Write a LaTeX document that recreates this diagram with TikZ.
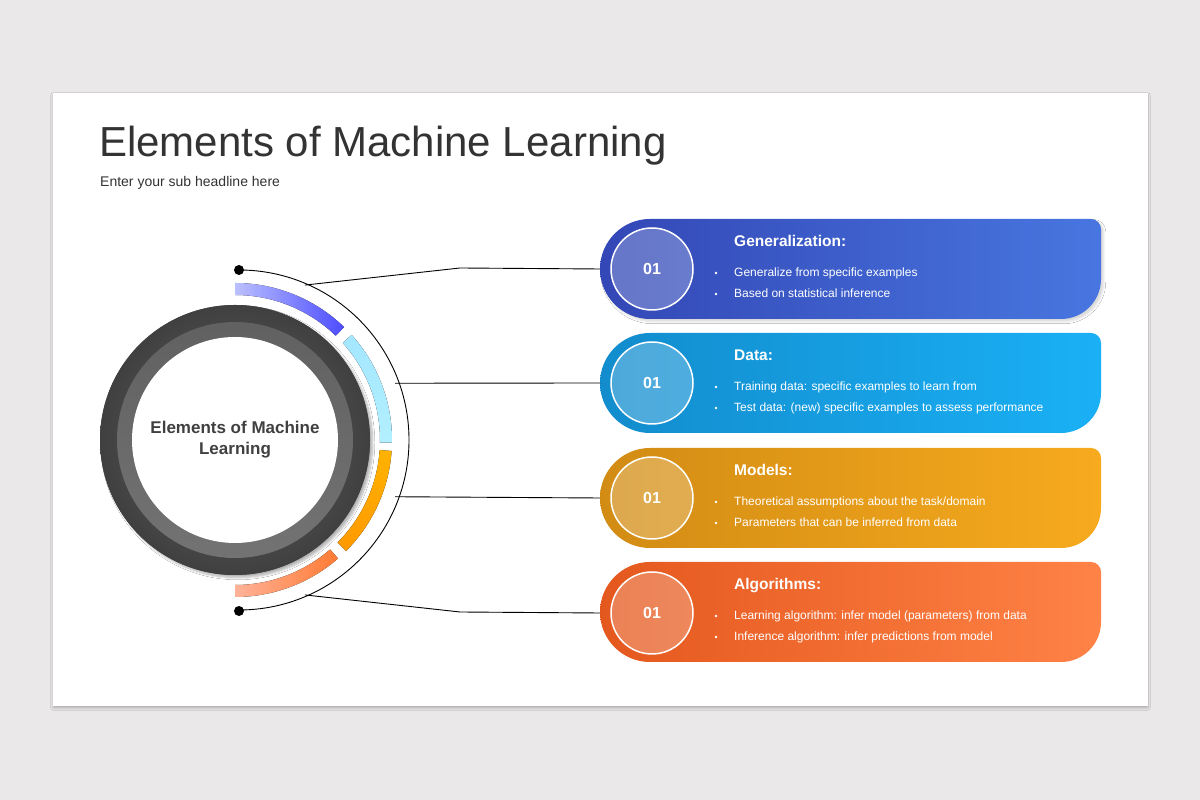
\documentclass[tikz,border=0pt]{standalone}
\usepackage{fontspec}
\setmainfont{Liberation Sans}
\usetikzlibrary{shadows.blur}
\definecolor{bgc}{HTML}{EAE8E9}
\definecolor{txt}{HTML}{333333}
\tikzset{
 card/.style={},
 num/.style={circle,draw=white,line width=1.5pt,minimum size=82pt,text=white,font=\bfseries\fontsize{16}{16}\selectfont,fill=white,fill opacity=0.25,text opacity=1},
 head/.style={anchor=base west,text=white,font=\bfseries\fontsize{15.5}{16}\selectfont,inner sep=0},
 item/.style={anchor=base west,text=white,font=\fontsize{12}{13}\selectfont,inner sep=0},
 conn/.style={black,line width=0.9pt},
}
\newcommand{\cardpath}[1]{(650,#1) arc[start angle=90,end angle=270,radius=50] -- (1061,#1-100) arc[start angle=-90,end angle=0,radius=40] -- (1101,#1-10) arc[start angle=0,end angle=90,radius=10] -- cycle}
\begin{document}
\begin{tikzpicture}[x=1pt,y=1pt]
\useasboundingbox (0,0) rectangle (1200,800);
\fill[bgc] (0,0) rectangle (1200,800);
\fill[white,blur shadow={shadow blur steps=8,shadow xshift=0pt,shadow yshift=-2pt,shadow opacity=25}] (53,94) rectangle (1148,707);
\node[anchor=base west,text=txt,font=\fontsize{42}{44}\selectfont,inner sep=0] (title) at (99,643) {Elements of Machine Learning};
\node[anchor=base west,text=txt,font=\fontsize{14}{16}\selectfont,inner sep=0] (sub) at (100,613) {Enter your sub headline here};
% central circle
\coordinate (C) at (235,360);
\fill[black!70,blur shadow={shadow blur steps=8,shadow opacity=30}] (C) circle (135);
\shade[inner color=black!60,outer color=black!75] (C) circle (135);
\shade[top color=black!62,bottom color=black!55] (C) circle (118);
\fill[white] (C) circle (103);
\node[text=black!75,font=\bfseries\fontsize{17}{21}\selectfont,align=center] (center) at (C) {Elements of Machine\\Learning};
% colored arcs
\def\ring#1#2#3{\fill[#3] ($(C)+(#1:157)$) arc[start angle=#1,end angle=#2,radius=157] -- ($(C)+(#2:145)$) arc[start angle=#2,end angle=#1,radius=145] -- cycle;}
\fill[left color=blue!25!cyan!5!white!70!blue!80,right color=blue!70!white] (235,517) arc[start angle=90,end angle=46,radius=157] -- ++(226:12) arc[start angle=46,end angle=90,radius=145] -- cycle;
\fill[top color=cyan!40!blue!20!white!80!cyan,bottom color=cyan!80!blue!30] ($(235,360)+(42:157)$) arc[start angle=42,end angle=-1,radius=157] -- ($(235,360)+(-1:145)$) arc[start angle=-1,end angle=42,radius=145] -- cycle;
\fill[top color=orange!60!yellow,bottom color=orange!80!yellow] ($(235,360)+(-4:157)$) arc[start angle=-4,end angle=-45,radius=157] -- ($(235,360)+(-45:145)$) arc[start angle=-45,end angle=-4,radius=145] -- cycle;
\fill[left color=orange!50!red!40!white,right color=orange!70!red!80] ($(235,360)+(-49:157)$) arc[start angle=-49,end angle=-90,radius=157] -- ($(235,360)+(-90:145)$) arc[start angle=-90,end angle=-49,radius=145] -- cycle;
% black arc
\draw[conn] (239,530) arc[start angle=90,end angle=-90,radius=170];
\fill (239,530) circle (5); \fill (239,189) circle (5);
\coordinate (a1) at ($(C)+(65.7:170)$);
\coordinate (a2) at ($(C)+(19.5:170)$);
\coordinate (a3) at ($(C)+(-19.5:170)$);
\coordinate (a4) at ($(C)+(-65.7:170)$);
% cards
\shade[left color=blue!60!black!90!cyan!80,right color={rgb,255:red,72;green,118;blue,224}, blur shadow={shadow opacity=15}] \cardpath{581};
\shade[left color={rgb,255:red,18;green,140;blue,205},right color={rgb,255:red,26;green,176;blue,245}] \cardpath{467};
\shade[left color={rgb,255:red,210;green,140;blue,20},right color={rgb,255:red,247;green,170;blue,30}] \cardpath{352};
\shade[left color={rgb,255:red,228;green,88;blue,30},right color={rgb,255:red,255;green,130;blue,70}] \cardpath{238};
\node[num] (n1) at (652,531) {01};
\node[num] (n2) at (652,417) {01};
\node[num] (n3) at (652,302) {01};
\node[num] (n4) at (652,187) {01};
\coordinate (w1) at (600,531); \coordinate (w2) at (600,417);
\coordinate (w3) at (600,302); \coordinate (w4) at (600,187);
\draw[conn] (a1) -- (460,532) -- (w1);
\draw[conn] (a2) -- (w2);
\draw[conn] (a3) -- (w3);
\draw[conn] (a4) -- (460,188) -- (w4);
\foreach \t/\h/\b/\c [count=\i] in {581/Generalization:/Generalize from specific examples/Based on statistical inference,
 467/Data:/Training data: specific examples to learn from/Test data: (new) specific examples to assess performance,
 352/Models:/Theoretical assumptions about the task\slash domain/Parameters that can be inferred from data,
 238/Algorithms:/Learning algorithm: infer model (parameters) from data/Inference algorithm: infer predictions from model}{
 \node[head] (h\i) at (734,\t-28) {\h};
 \node[item] (b\i) at (734,\t-58) {\b};
 \node[item] (c\i) at (734,\t-79) {\c};
 \fill[white] (716,\t-54) circle (1.3);
 \fill[white] (716,\t-75) circle (1.3);
}
\end{tikzpicture}
\end{document}
